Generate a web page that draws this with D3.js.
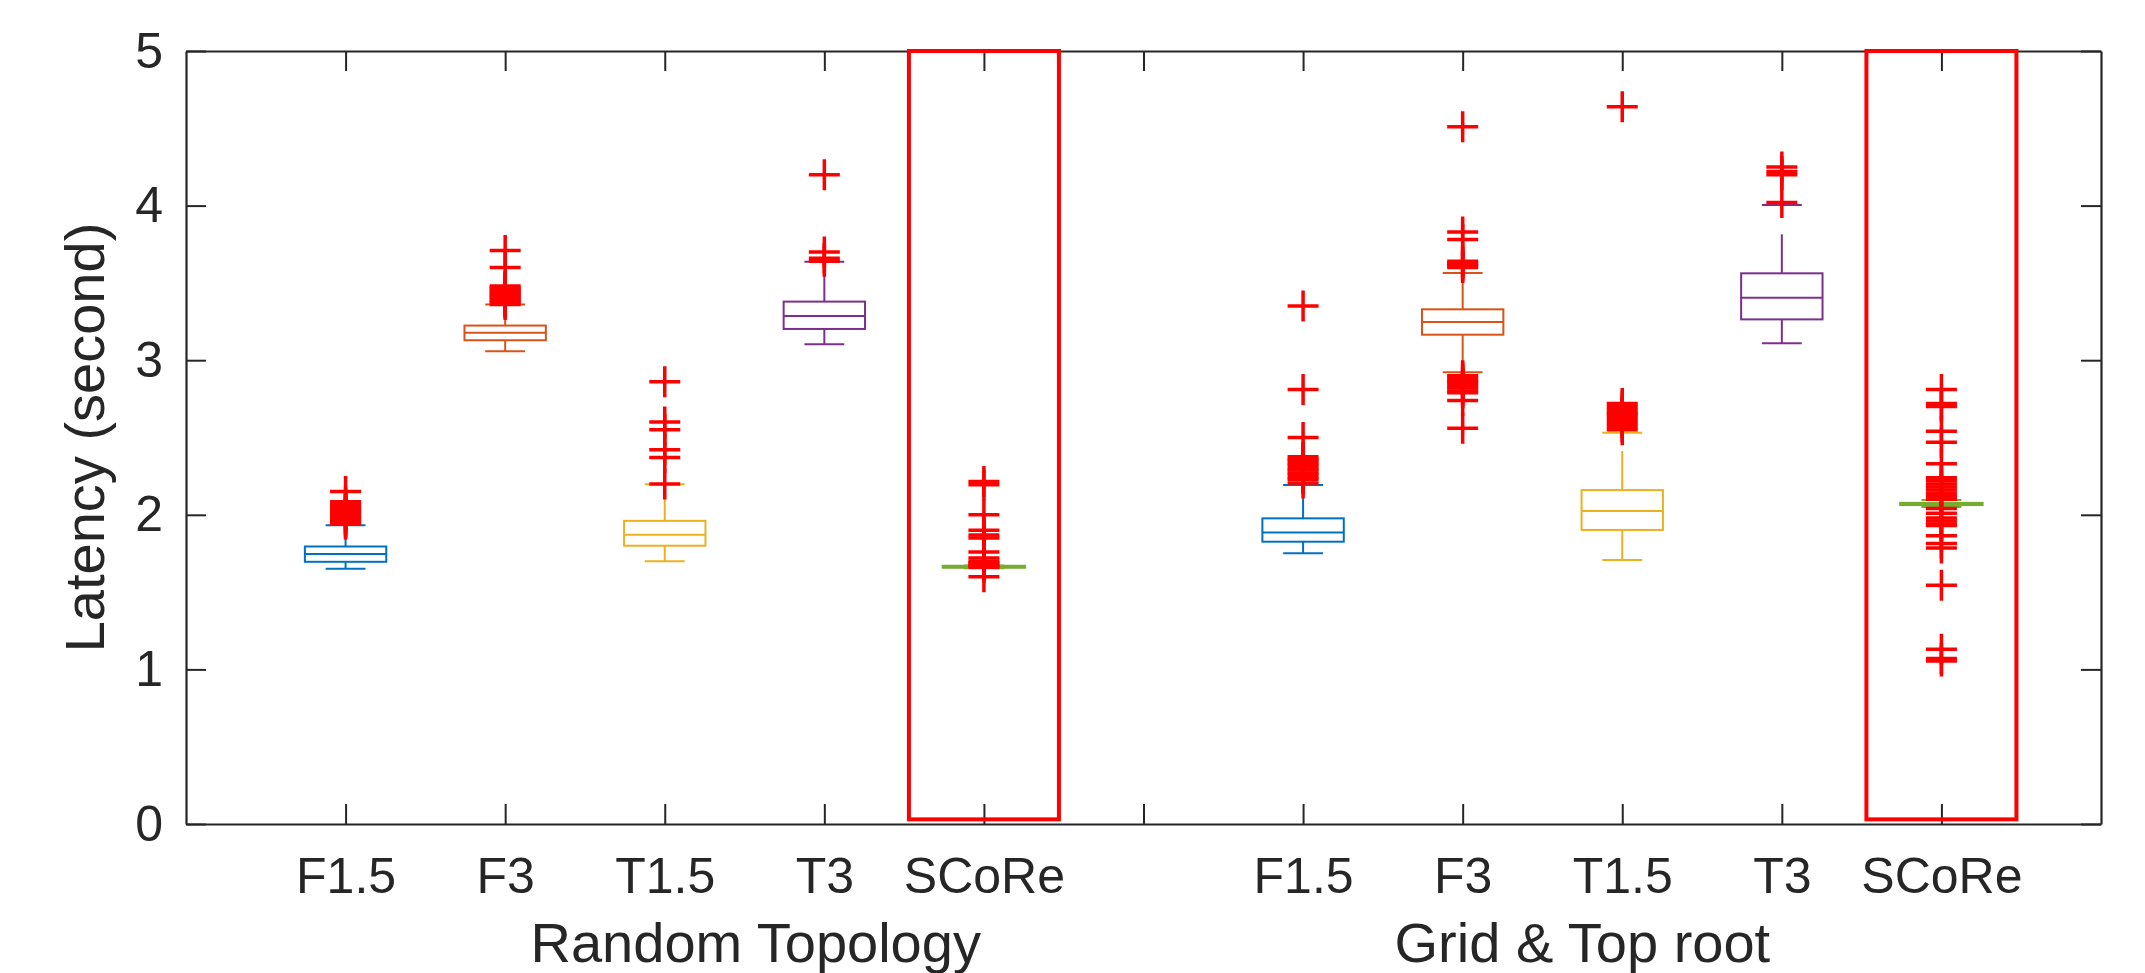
<!DOCTYPE html>
<html>
<head>
<meta charset="utf-8">
<script src="https://cdn.jsdelivr.net/npm/d3@7/dist/d3.min.js"></script>
<style>
  body { margin: 0; background: #fff; }
  text { font-family: "Liberation Sans", Arial, Helvetica, sans-serif; fill: #262626; }
</style>
</head>
<body>
<div id="chart"></div>
<script>
// categories
const groups = ["Random Topology", "Grid & Top root"];
const methods = ["F1.5", "F3", "T1.5", "T3", "SCoRe"];
const yTicks = [0, 1, 2, 3, 4, 5];

// box stats per method: [lower whisker, q1, median, q3, upper whisker]
const randomBoxes = [
  [1.651, 1.696, 1.746, 1.795, 1.933],
  [3.058, 3.129, 3.177, 3.224, 3.360],
  [1.700, 1.800, 1.871, 1.961, 2.198],
  [3.103, 3.202, 3.286, 3.379, 3.637],
  [1.655, 1.661, 1.664, 1.667, 1.672]
];
const gridBoxes = [
  [1.751, 1.826, 1.886, 1.977, 2.193],
  [2.922, 3.165, 3.247, 3.329, 3.564],
  [1.708, 1.902, 2.025, 2.160, 2.531],
  [3.109, 3.264, 3.404, 3.562, 4.004],
  [2.050, 2.066, 2.070, 2.074, 2.095]
];

// outliers
const randomOutliers = [
  [2.15, 2.085, 2.07, 2.06, 2.05, 2.04, 2.03, 2.02, 2.01, 2.0, 1.99, 1.98, 1.97, 1.96, 1.95, 1.94],
  [3.71, 3.60, 3.48, 3.47, 3.46, 3.45, 3.44, 3.43, 3.42, 3.41, 3.40, 3.39, 3.38, 3.37, 3.36],
  [2.86, 2.60, 2.55, 2.42, 2.37, 2.20],
  [4.20, 3.70, 3.66, 3.64],
  [2.215, 2.195, 2.00, 1.90, 1.87, 1.85, 1.76, 1.72, 1.70, 1.69, 1.68, 1.67, 1.66, 1.60]
];
const gridOutliers = [
  [3.35, 2.81, 2.50, 2.375, 2.36, 2.35, 2.33, 2.32, 2.30, 2.29, 2.27, 2.26, 2.24, 2.23, 2.205],
  [4.51, 3.83, 3.78, 3.64, 3.63, 3.62, 3.61, 3.60, 2.90, 2.89, 2.87, 2.86, 2.85, 2.83, 2.82, 2.80, 2.79, 2.74, 2.56],
  [4.64, 2.72, 2.70, 2.68, 2.66, 2.65, 2.63, 2.61, 2.59, 2.57, 2.55],
  [4.25, 4.22, 4.20, 4.02],
  [2.81, 2.72, 2.70, 2.54, 2.47, 2.33, 2.24, 2.22, 2.20, 2.18, 2.16, 2.14, 2.12, 2.10, 2.04, 2.01, 1.98, 1.96, 1.94, 1.93, 1.865, 1.815, 1.785, 1.545, 1.13, 1.07, 1.055]
];

const colors = ["#0072BD", "#D95319", "#EDB120", "#7E2F8E", "#77AC30"];
const axisColor = "#262626";

const width = 2145, height = 973;
const m = { left: 186, right: 2101, top: 51, bottom: 824 };

const svg = d3.select("#chart").append("svg")
  .attr("width", width)
  .attr("height", height);

const x = d3.scaleLinear().domain([0, 12]).range([m.left, m.right]);
const y = d3.scaleLinear().domain([0, 5]).range([m.bottom, m.top]);

// tick positions: 1..5 first group, 7..11 second group
const xTickVals = d3.range(1, 12);
const xTickLabels = methods.concat([""], methods);

// build flat list of boxes
const boxes = [];
[randomBoxes, gridBoxes].forEach(function (set, g) {
  const outs = g === 0 ? randomOutliers : gridOutliers;
  set.forEach(function (s, i) {
    boxes.push({ pos: g * 6 + i + 1, stats: s, outliers: outs[i], color: colors[i], method: methods[i] });
  });
});

const boxW = x(0.51) - x(0);
const capW = x(0.25) - x(0);

const bx = svg.append("g").attr("class", "boxes");
const b = bx.selectAll("g").data(boxes).enter().append("g");

// whiskers (dashed like matlab)
b.append("line")
  .attr("x1", d => x(d.pos)).attr("x2", d => x(d.pos))
  .attr("y1", d => y(d.stats[3])).attr("y2", d => y(d.stats[4]))
  .attr("stroke", d => d.color).attr("stroke-width", 2)
  .attr("stroke-dasharray", "39,30");
b.append("line")
  .attr("x1", d => x(d.pos)).attr("x2", d => x(d.pos))
  .attr("y1", d => y(d.stats[1])).attr("y2", d => y(d.stats[0]))
  .attr("stroke", d => d.color).attr("stroke-width", 2)
  .attr("stroke-dasharray", "39,30");

// caps
[0, 4].forEach(function (k) {
  b.append("line")
    .attr("x1", d => x(d.pos) - capW / 2).attr("x2", d => x(d.pos) + capW / 2)
    .attr("y1", d => y(d.stats[k])).attr("y2", d => y(d.stats[k]))
    .attr("stroke", d => d.color).attr("stroke-width", 2);
});

// box + median
b.append("rect")
  .attr("x", d => x(d.pos) - boxW / 2)
  .attr("width", boxW)
  .attr("y", d => y(d.stats[3]))
  .attr("height", d => Math.max(y(d.stats[1]) - y(d.stats[3]), 0.5))
  .attr("fill", "none")
  .attr("stroke", d => d.color)
  .attr("stroke-width", d => d.method === "SCoRe" ? 3 : 2);
b.append("line")
  .attr("x1", d => x(d.pos) - boxW / 2).attr("x2", d => x(d.pos) + boxW / 2)
  .attr("y1", d => y(d.stats[2])).attr("y2", d => y(d.stats[2]))
  .attr("stroke", d => d.color).attr("stroke-width", d => d.method === "SCoRe" ? 3 : 2);

// outliers as red +
const arm = 15.5;
b.selectAll("path.out")
  .data(d => d.outliers.map(v => ({ pos: d.pos, v: v })))
  .enter().append("path")
  .attr("class", "out")
  .attr("d", d => "M" + (x(d.pos) - arm) + "," + y(d.v) + "H" + (x(d.pos) + arm) +
    "M" + x(d.pos) + "," + (y(d.v) - arm) + "V" + (y(d.v) + arm))
  .attr("fill", "none")
  .attr("stroke", "#FF0000")
  .attr("stroke-width", 3.5);

// axes, boxed with inward ticks
const tickLen = 20;
svg.append("g").attr("transform", "translate(0," + m.bottom + ")")
  .call(d3.axisBottom(x).tickValues(xTickVals)
    .tickFormat((d, i) => xTickLabels[i])
    .tickSizeInner(-tickLen).tickSizeOuter(0).tickPadding(33));
svg.append("g").attr("transform", "translate(0," + m.top + ")")
  .call(d3.axisTop(x).tickValues(xTickVals).tickFormat("")
    .tickSizeInner(-tickLen).tickSizeOuter(0));
svg.append("g").attr("transform", "translate(" + m.left + ",0)")
  .call(d3.axisLeft(y).tickValues(yTicks).tickFormat(d3.format("d"))
    .tickSizeInner(-tickLen).tickSizeOuter(0).tickPadding(23));
svg.append("g").attr("transform", "translate(" + m.right + ",0)")
  .call(d3.axisRight(y).tickValues(yTicks).tickFormat("")
    .tickSizeInner(-tickLen).tickSizeOuter(0));

svg.selectAll(".domain").attr("stroke", axisColor).attr("stroke-width", 2.2);
svg.selectAll(".tick line").attr("stroke", axisColor).attr("stroke-width", 2);
svg.selectAll(".tick text")
  .attr("fill", axisColor)
  .style("font-size", "50px")
  .style("font-family", "'Liberation Sans', Arial, sans-serif");

// highlight rectangles around SCoRe
const hl = boxes.filter(d => d.method === "SCoRe");
svg.append("g").selectAll("rect").data(hl).enter().append("rect")
  .attr("x", d => x(d.pos - 0.47))
  .attr("width", d => x(d.pos + 0.47) - x(d.pos - 0.47))
  .attr("y", y(5))
  .attr("height", y(0.03) - y(5))
  .attr("fill", "none")
  .attr("stroke", "#FF0000")
  .attr("stroke-width", 4);

// group labels
const groupCenters = [3.57, 8.75];
svg.append("g").selectAll("text").data(groups).enter().append("text")
  .attr("x", (d, i) => x(groupCenters[i]))
  .attr("y", 962)
  .attr("text-anchor", "middle")
  .style("font-size", "56px")
  .text(d => d);

// y label
svg.append("text")
  .attr("transform", "translate(104," + ((m.top + m.bottom) / 2) + ") rotate(-90)")
  .attr("text-anchor", "middle")
  .style("font-size", "56px")
  .text("Latency (second)");
</script>
</body>
</html>
